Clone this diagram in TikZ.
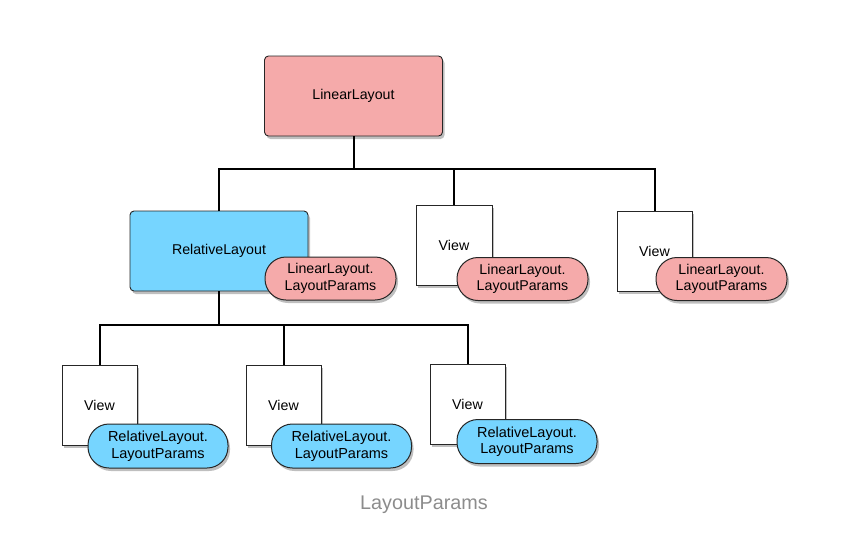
\documentclass[tikz,border=0pt]{standalone}
\usepackage{fontspec}
\setmainfont{Liberation Sans}
\usetikzlibrary{shadows}
\definecolor{pinkf}{RGB}{245,170,170}
\definecolor{bluef}{RGB}{118,213,255}
\definecolor{capgray}{RGB}{140,140,140}
\tikzset{
  boxshadow/.style={drop shadow={opacity=0.5,shadow xshift=2pt,shadow yshift=-3pt}},
  layoutbox/.style={draw=black!85,line width=0.9pt,rounded corners=4pt,minimum width=178pt,minimum height=80pt,inner sep=0pt,boxshadow,font=\fontsize{14.2}{16}\selectfont},
  viewbox/.style={draw=black!85,fill=white,line width=0.9pt,minimum width=76pt,minimum height=80pt,inner sep=0pt,boxshadow,font=\fontsize{14.2}{16}\selectfont},
  pill/.style={draw=black!85,line width=1pt,rounded corners=21pt,minimum width=131pt,minimum height=43pt,inner sep=0pt,align=center,boxshadow,font=\fontsize{14.2}{16.5}\selectfont},
  bpill/.style={pill,fill=bluef,minimum width=140pt,minimum height=44pt,font=\fontsize{14.5}{16.5}\selectfont},
  rpill/.style={pill,fill=pinkf},
  link/.style={line width=2pt,black}
}
\begin{document}
\begin{tikzpicture}[x=1pt,y=-1pt]
\useasboundingbox (0,0) rectangle (848,539);
% nodes
\node[layoutbox,fill=pinkf] (top) at (353.5,96) {LinearLayout};
\node[layoutbox,fill=bluef] (rel) at (219,251) {RelativeLayout};
\node[viewbox] (v2) at (454,245) {View};
\node[viewbox,minimum width=75pt] (v3) at (654.5,251) {View};
\node[viewbox,minimum width=75pt] (b1) at (99.5,405) {View};
\node[viewbox,minimum width=75pt] (b2) at (283.5,405) {View};
\node[viewbox,minimum width=75pt] (b3) at (467.5,404) {View};
% junction coordinates
\coordinate (j1) at (top.south |- 0,169);
\coordinate (j2) at (rel.south |- 0,325);
% connectors
\draw[link] (top.south) -- (j1);
\draw[link] (rel.north) |- (j1);
\draw[link] (j1) -| (v2.north);
\draw[link] (j1) -| (v3.north);
\draw[link] (rel.south) -- (j2);
\draw[link] (j2) -| (b1.north);
\draw[link] (j2) -| (b2.north);
\draw[link] (j2) -| (b3.north);
% pills
\node[rpill] (p1) at (330.5,278.5) {LinearLayout.\\LayoutParams};
\node[rpill] (p2) at (522.5,279) {LinearLayout.\\LayoutParams};
\node[rpill] (p3) at (721.5,279) {LinearLayout.\\LayoutParams};
\node[bpill] (q1) at (158,446) {RelativeLayout.\\LayoutParams};
\node[bpill] (q2) at (341.5,446) {RelativeLayout.\\LayoutParams};
\node[bpill] (q3) at (527,441.5) {RelativeLayout.\\LayoutParams};
% caption
\node[text=capgray,font=\fontsize{19.8}{22}\selectfont] (cap) at (424,505) {LayoutParams};
\end{tikzpicture}
\end{document}
